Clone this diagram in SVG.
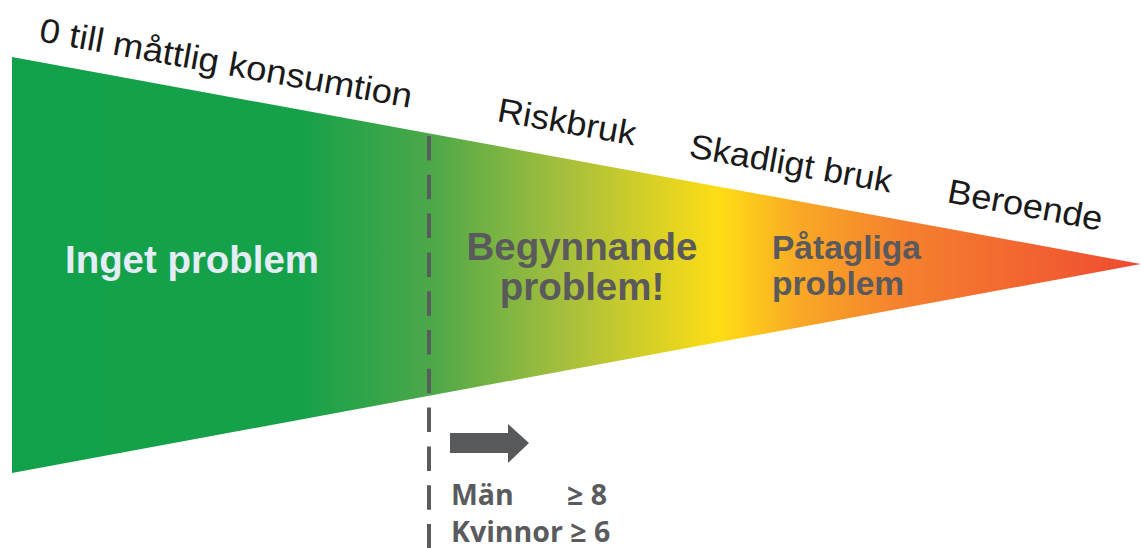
<svg xmlns="http://www.w3.org/2000/svg" width="1141" height="548" viewBox="0 0 1141 548">
<defs>
<linearGradient id="grad" gradientUnits="userSpaceOnUse" x1="12" y1="0" x2="1141" y2="0">
<stop offset="0" stop-color="#12a14a"/>
<stop offset="0.255" stop-color="#15a14a"/>
<stop offset="0.37" stop-color="#4ba849"/>
<stop offset="0.485" stop-color="#a3be3d"/>
<stop offset="0.627" stop-color="#fedd15"/>
<stop offset="0.698" stop-color="#f9a825"/>
<stop offset="0.787" stop-color="#f5812e"/>
<stop offset="1" stop-color="#ef4b31"/>
</linearGradient>
<style>
.lbl{font-family:"Liberation Sans",Arial,sans-serif;font-size:34px;fill:#1a1a1a}
.big{font-family:"Liberation Sans",Arial,sans-serif;font-weight:bold;fill:#5a5a5c}
.crit{font-family:"Open Sans","Noto Sans",sans-serif;font-weight:bold;font-size:28.5px;fill:#5a5b5d}
</style>
</defs>
<g id="funnel">
<polygon points="12,57 1141,264 12,473" fill="url(#grad)"/>
</g>
<g id="labels-top">
<text class="lbl" transform="translate(38,41) rotate(10.2)" textLength="378" lengthAdjust="spacingAndGlyphs">0 till måttlig konsumtion</text>
<text class="lbl" transform="translate(496,121) rotate(10)" textLength="140" lengthAdjust="spacingAndGlyphs">Riskbruk</text>
<text class="lbl" transform="translate(688,157) rotate(10)" textLength="205" lengthAdjust="spacingAndGlyphs">Skadligt bruk</text>
<text class="lbl" transform="translate(946,202) rotate(10.5)" textLength="157" lengthAdjust="spacingAndGlyphs">Beroende</text>
</g>
<g id="node-inget">
<text x="65" y="273" font-family="Liberation Sans,Arial,sans-serif" font-weight="bold" font-size="38" fill="#e4edf7" textLength="254" lengthAdjust="spacingAndGlyphs">Inget problem</text>
</g>
<g id="node-begynnande">
<text class="big" x="582" y="260" font-size="38.5" text-anchor="middle">Begynnande</text>
<text class="big" x="582" y="300" font-size="38.5" text-anchor="middle">problem!</text>
</g>
<g id="node-patagliga">
<text class="big" x="772" y="259" font-size="33.5">Påtagliga</text>
<text class="big" x="772" y="295" font-size="33.5">problem</text>
</g>
<g id="connectors">
<line x1="429" y1="136" x2="429" y2="548" stroke="#5a5b5d" stroke-width="4" stroke-dasharray="24.5 14.3"/>
<polygon points="450,433 508,433 508,424 529,443 508,463 508,453 450,453" fill="#58595b"/>
</g>
<g id="node-criteria">
<text class="crit" x="451" y="505">Män</text>
<text class="crit" x="567" y="505">≥ 8</text>
<text class="crit" x="451" y="542">Kvinnor ≥ 6</text>
</g>
</svg>
